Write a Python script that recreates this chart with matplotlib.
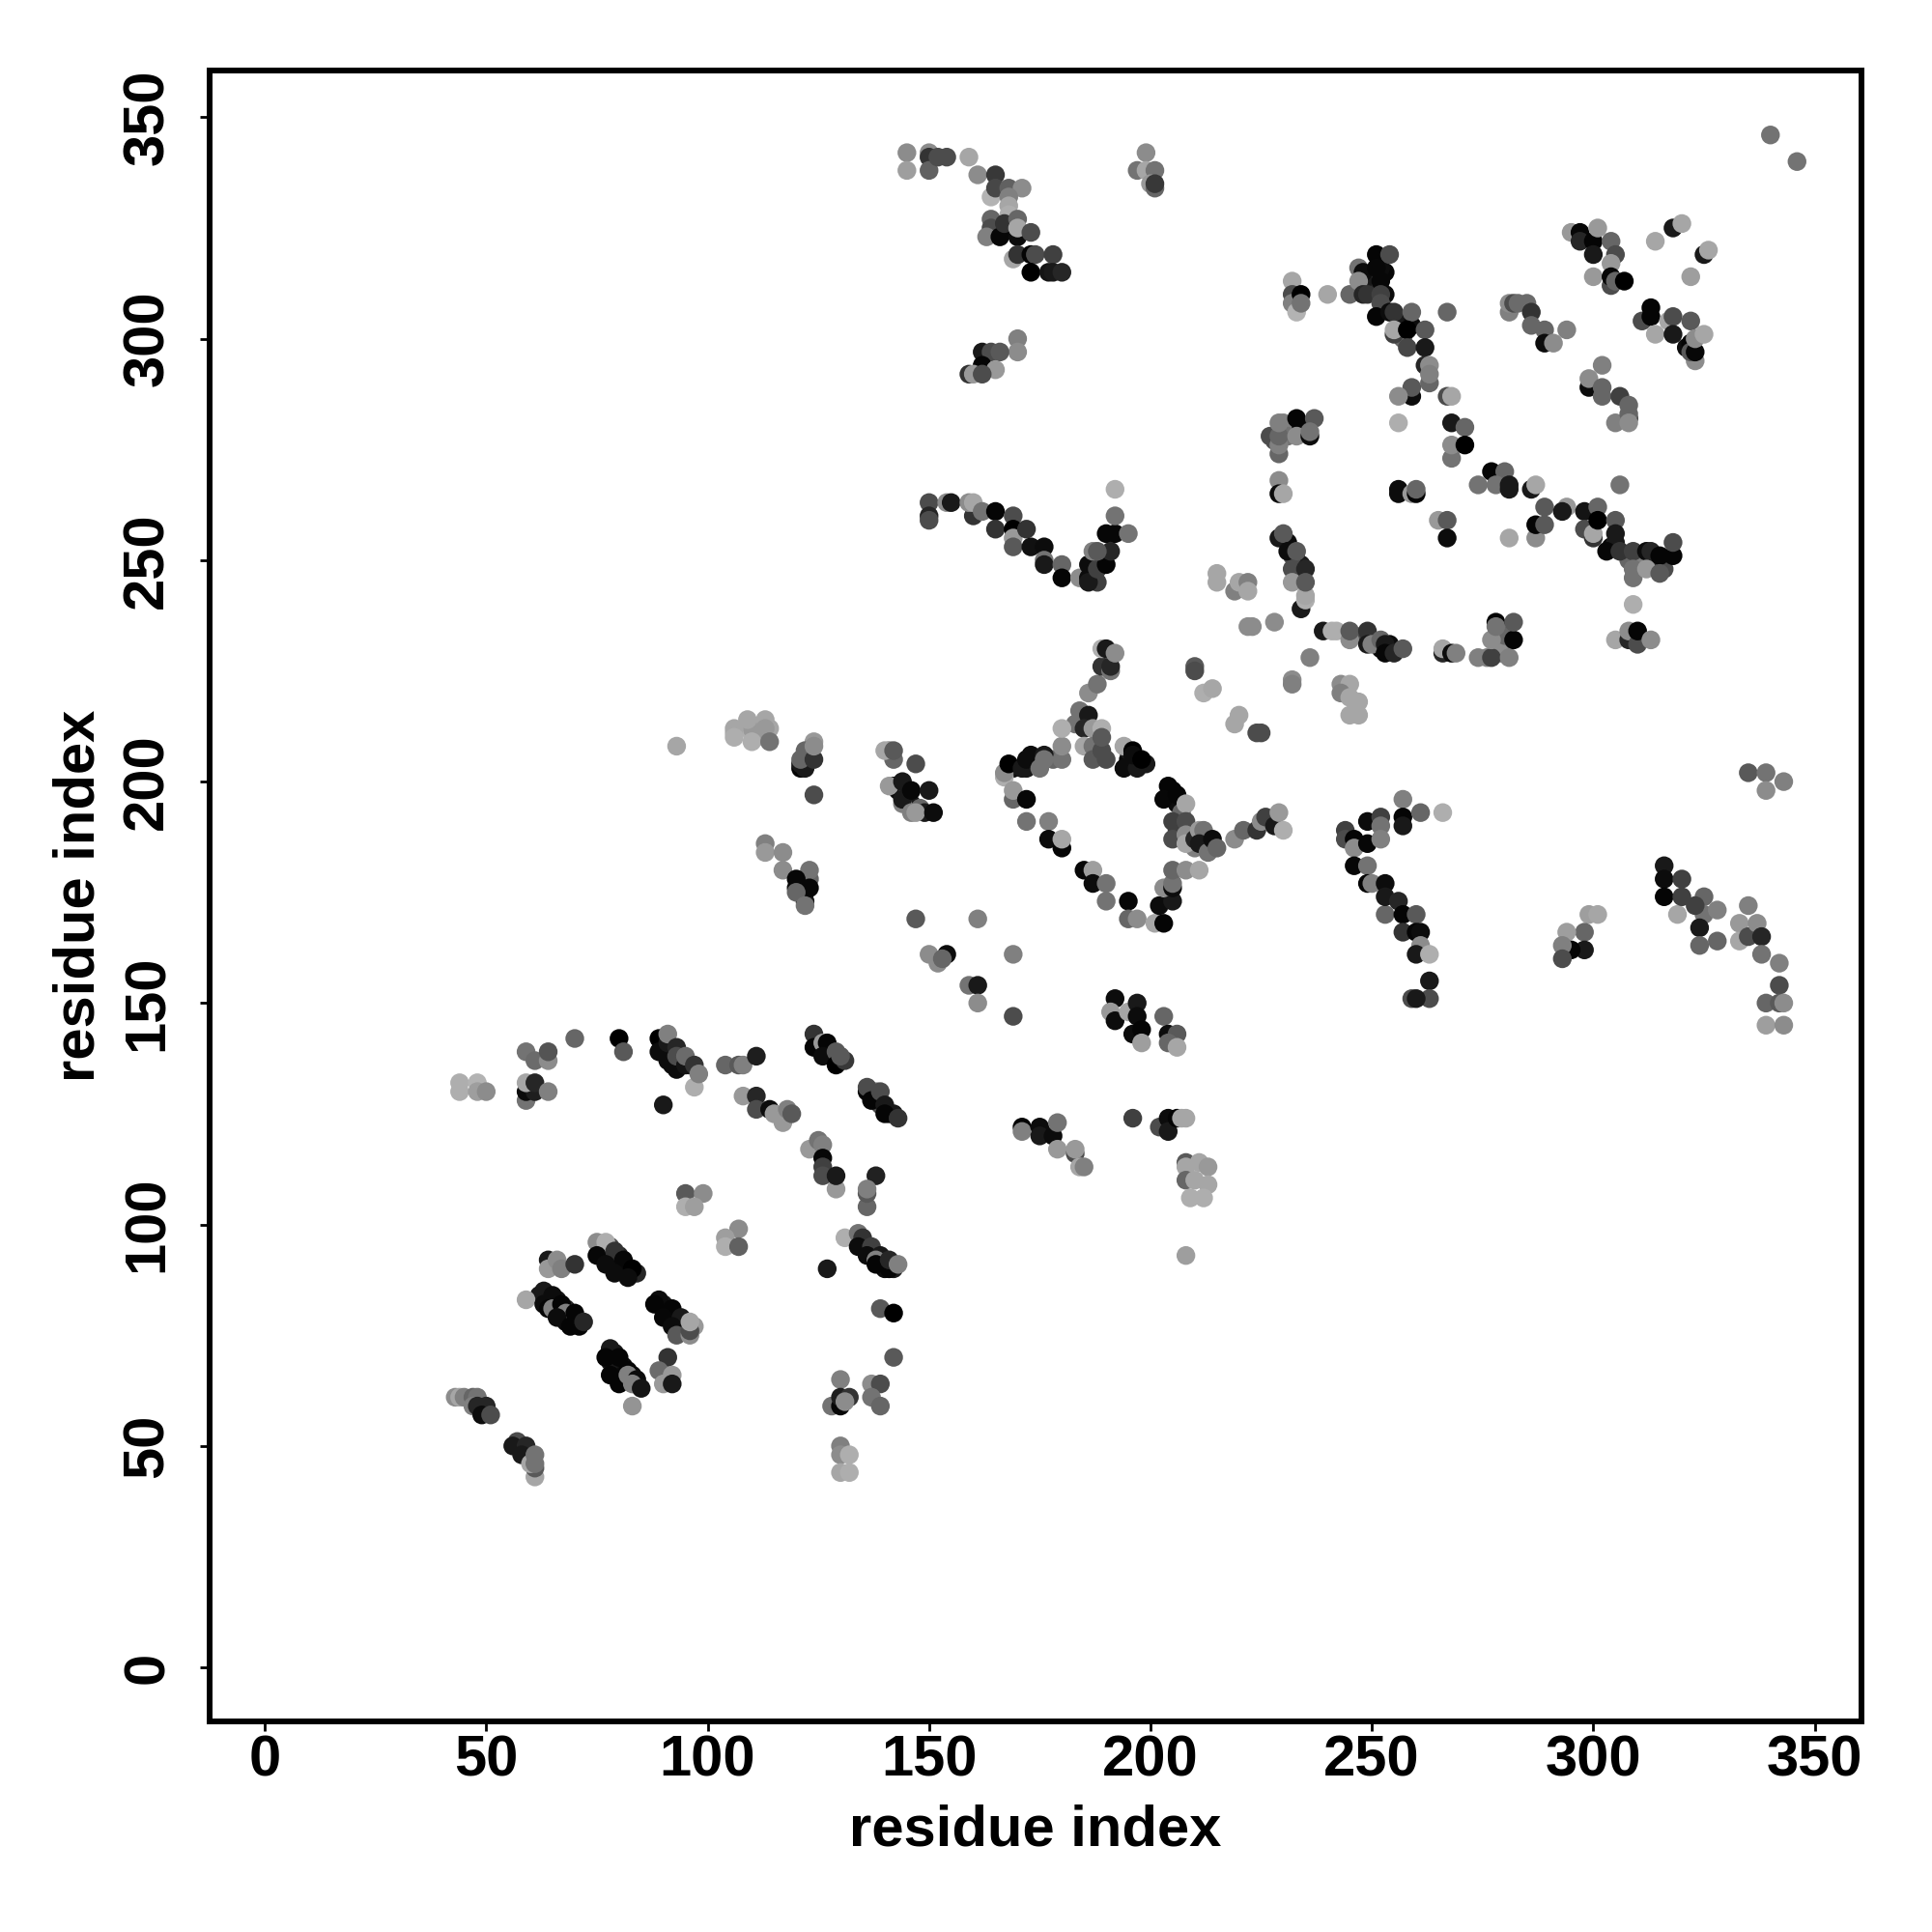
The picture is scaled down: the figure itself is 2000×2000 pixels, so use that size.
"""Residue contact map, points shaded by score."""

import matplotlib.pyplot as plt
import numpy as np

plt.rcParams["font.family"] = ["Liberation Sans", "DejaVu Sans"]

# (residue i, residue j, score); score 0 = black
dense_strands = [
    (121,203,.02),(122,205,.1),(123,207,.3),(124,209,.6),(121,204,.1),(122,207,.4),(120,176,.05),(122,175,.03),(122,178,.02),(123,178,.4),(122,173,.1),
    (109,212,.68),(110,212,.6),(114,212,.65),(111,210,.6),(106,211,.68),(141,207,.5),(142,205,.4),(142,199,.02),(143,198,.05),(145,197,.3),(146,195,.1),(148,194,.4),(144,195,.5),(149,193,.1),
    (78,92,.05),(80,91,.05),(82,89,.03),(76,94,.05),(84,89,.15),(80,93,.15),(78,95,.3),(64,83,.05),(66,81,.05),(68,81,.15),(68,78,.05),(70,78,.02),(66,83,.1),(62,84,.1),
    (90,82,.1),(91,80,.05),(93,78,.05),(95,77,.05),(94,76,.3),(97,77,.6),(78,70,.05),(79,71,.1),(79,68,.05),(81,68,.05),(81,65,.05),(83,66,.05),(84,64,.05),(78,69,.1),
    (90,140,.05),(92,139,.05),(94,137,.08),(96,136,.1),(94,136,.05),(92,136,.05),(125,140,.05),(128,138,.1),(130,137,.05),(127,139,.05),(129,137,.1),
    (138,128,.05),(139,127,.3),(141,125,.05),(142,125,.1),(138,130,.5),(137,129,.15),(135,96,.1),(136,95,.3),(137,93,.05),(139,91,.05),(140,92,.2),(140,90,.05),(142,90,.1),
    (250,314,.1),(251,313,.15),(253,310,.05),(248,313,.1),(253,315,.03),(252,316,.05),(257,304,.1),(257,300,.4),(259,303,.05),(165,324,.2),(168,325,.05),(169,327,.6),
    (172,203,.1),(173,206,.05),(174,204,.1),(178,205,.4),(169,203,.05),(195,205,.03),(197,205,.02),(195,207,.1),(199,204,.1),(205,198,.02),(204,197,.05),(206,195,.05),(207,193,.4),
    (206,189,.25),(209,189,.35),(210,185,.5),(212,186,.2),(209,187,.25),(213,186,.15),(308,250,.4),(311,250,.3),(314,249,.2),(316,248,.3),(311,249,.5),(304,253,.03),(305,254,.1),
    (231,254,.05),(233,250,.2),(234,249,.1),(232,251,.3),(233,247,.1),(230,281,.5),(231,278,.45),(228,277,.3),(234,280,.05),(321,298,.05),(322,299,.02),
    (248,233,.3),(250,232,.15),(252,230,.05),(254,231,.05),(279,229,.45),(279,231,.55),(278,233,.5),(280,233,.4),
]

lower_left = [
    (44,132,.68),(44,130,.68),(48,132,.7),(48,130,.62),(50,130,.55),(59,139,.45),(61,137,.42),(64,137,.55),(64,139,.33),(70,142,.4),
    (59,128,.45),(59,130,.05),(61,130,.12),(59,132,.65),(61,132,.15),(64,130,.5),(80,142,0),(81,139,.35),
    (89,142,0),(89,139,.05),(91,137,.05),(93,135,.05),(91,141,.1),(91,143,.5),(93,140,.15),(93,138,.3),(95,136,.08),(95,138,.42),(97,136,.2),(97,131,.68),(98,134,.5),(90,127,.1),
    (104,136,.4),(107,136,.35),(108,136,.5),(111,138,.12),(108,129,.6),(111,129,.15),(111,126,.3),(117,123,.6),(114,126,.05),(115,125,.6),(118,126,.5),(119,125,.35),
    (124,143,.2),(124,140,.02),(126,141,.6),(127,141,.02),(126,138,.05),(129,139,.35),(129,136,0),(131,137,.22),(130,138,.35),
    (136,130,.02),(136,131,.3),(137,128,.02),(139,130,.3),(140,127,.1),(140,125,.02),(143,124,.2),
    (123,117,.6),(125,119,.45),(126,118,.5),(126,115,.03),(126,113,.25),(126,111,.3),(129,108,.6),(129,111,.1),(138,111,.13),(136,104,.4),(136,107,.35),(136,108,.5),
    (95,107,.35),(99,107,.55),(95,104,.68),(97,104,.62),(107,99,.55),(104,97,.62),(104,95,.68),(107,95,.38),
    (131,97,.68),(134,98,.45),(135,97,.2),(134,95,.05),(137,95,.25),(136,93,.05),(139,93,.1),(138,92,.5),(138,91,.02),(141,90,.02),(141,92,.15),(143,91,.5),(127,90,.1),
    (139,81,.35),(142,80,0),(142,70,.35),(64,92,.1),(64,90,.6),(66,92,.55),(67,90,.5),(70,91,.2),
    (75,96,.55),(77,96,.68),(75,93,.03),(79,94,.2),(77,91,.05),(81,92,.03),(79,89,.05),(83,90,0),(82,88,.05),
    (59,83,.65),(63,85,.1),(65,84,.05),(63,82,.05),(64,81,.02),(65,81,.5),(67,82,.02),(68,80,.5),(70,80,.02),(66,79,.05),(69,77,.02),(71,77,.02),(72,78,.15),
    (89,83,.05),(88,82,.02),(92,81,.02),(90,79,.03),(94,79,.1),(92,77,.05),(93,75,.35),(96,75,.55),(96,76,.3),(96,78,.65),
    (78,72,.1),(77,70,.02),(80,70,.02),(78,66,.02),(82,67,.02),(80,64,.02),(82,66,.5),(84,65,.05),(83,64,.5),(85,63,.08),(83,59,.58),
    (91,70,.2),(89,67,.42),(90,64,.6),(92,66,.6),(92,64,.1),
    (130,65,.5),(128,59,.45),(130,59,.03),(130,61,.12),(132,61,.2),(131,60,.55),(137,64,.55),(139,64,.3),(137,61,.45),(139,59,.4),
    (130,50,.5),(130,48,.55),(132,48,.68),(130,44,.65),(132,44,.68),
    (43,61,.55),(44,61,.65),(45,61,.5),(47,61,.4),(48,61,.45),(47,59,.5),(48,59,.15),(50,59,.15),(49,57,.05),(51,57,.3),
    (57,51,.3),(56,50,.1),(59,50,.15),(58,48,.1),(61,43,.65),(61,45,.35),(60,46,.65),(61,46,.45),(61,48,.45),
]

upper_middle = [
    (145,342,.55),(145,338,.62),(150,342,.55),(150,341,.2),(150,338,.38),(152,341,.3),(154,341,.3),(159,341,.65),(161,337,.55),(165,337,.22),
    (164,332,.7),(165,334,.28),(168,334,.38),(171,334,.55),(168,332,.5),(168,330,.65),(168,328,.68),
    (164,327,.4),(164,325,.3),(163,323,.5),(166,323,.03),(167,326,.2),(170,323,.05),(170,327,.4),(170,325,.65),(173,324,.3),
    (169,318,.65),(170,319,.2),(173,319,.02),(174,319,.3),(178,319,.25),(173,315,0),(177,315,.08),(178,315,.1),(180,315,.15),
    (170,300,.5),(170,297,.55),(162,297,.1),(164,297,.3),(166,297,.35),(162,294,.02),(165,293,.6),(159,292,.2),(160,292,.6),(162,292,.3),
    (199,342,.55),(197,338,.45),(199,338,.65),(201,338,.45),(200,335,.6),(201,334,.4),(201,335,.22),
    (150,263,.3),(150,260,.15),(150,259,.3),(154,263,.55),(155,263,.1),(160,260,.2),(159,263,.55),(160,263,.65),(162,261,.45),(165,261,.02),(165,257,.2),
    (169,260,.3),(169,257,0),(169,255,.6),(169,253,.35),(172,257,.2),(173,253,.07),(176,253,.05),(176,250,.45),(176,249,.1),(180,249,.4),(180,246,.02),
    (184,246,.55),(186,249,.05),(186,246,.05),(188,245,.25),(186,245,.1),(188,248,.25),(190,249,.02),(191,252,.15),(187,252,.5),(188,252,.35),
    (190,256,.03),(192,256,.03),(192,260,.45),(195,256,.45),(192,266,.68),
    (215,247,.65),(215,245,.65),(219,243,.5),(220,245,.65),(222,245,.5),(222,243,.65),(222,235,.55),(223,235,.55),(228,236,.55),
    (232,223,.55),(232,222,.5),(236,228,.5),(243,222,.55),(245,222,.65),(243,220,.5),(245,219,.65),(247,218,.65),(245,215,.65),(247,215,.65),
]

upper_right = [
    (232,313,.65),(232,310,.3),(232,308,.5),(233,306,.7),(234,310,0),(234,308,.45),(240,310,.65),(245,310,.4),
    (247,316,.45),(248,315,.05),(247,313,.55),(248,310,.15),(249,310,.2),(251,319,.02),(254,319,.3),(251,316,.03),(252,313,.03),(252,310,.25),(252,308,.3),
    (251,305,.02),(254,306,.05),(255,306,.2),(259,306,.4),(267,306,.4),(255,301,.25),(255,302,.65),(258,302,0),(262,302,.35),(258,298,.28),(262,298,.1),
    (262,294,.15),(263,294,.55),(263,290,.4),(263,292,.5),(259,287,.05),(259,289,.35),(256,287,.55),(267,287,.3),(268,287,.65),(256,281,.68),
    (268,281,.1),(271,280,.4),(268,273,.45),(268,276,.55),(271,276,0),(277,270,.02),(280,270,.4),(274,267,.45),(278,267,.45),(281,266,.1),(281,267,.1),
    (286,266,.1),(287,267,.65),(281,255,.65),(287,255,.55),(256,266,.05),(256,265,.05),(259,265,.6),(260,265,.02),(260,266,.4),
    (265,259,.6),(267,259,.35),(267,255,.05),(289,262,.35),(287,258,.02),(289,258,.35),(294,262,.6),(293,261,.1),(298,261,.08),(298,257,.3),(301,262,.4),
    (300,255,.2),(300,256,.65),(301,259,0),(305,259,.35),(305,256,.1),(303,252,.03),(306,252,.2),(309,252,.25),(309,246,.45),(309,248,.45),
    (312,252,.05),(313,252,.15),(315,251,.02),(318,251,.02),(318,254,.3),(312,248,.6),(315,247,.35),(306,267,.45),(309,240,.68),
    (305,232,.65),(308,232,.15),(308,234,.55),(310,231,.3),(310,234,.02),(313,232,.55),
    (295,324,.6),(297,324,.03),(297,322,.15),(300,322,.02),(301,325,.6),(304,322,.4),(300,319,.1),(305,319,.3),(304,317,.6),(300,314,.6),(304,312,.3),(304,314,.03),(305,313,.4),(307,313,0),
    (314,322,.65),(318,325,.1),(320,326,.65),(322,314,.62),(325,319,.1),(326,320,.65),
    (311,304,.3),(313,307,.02),(313,305,.02),(314,301,.65),(317,304,.65),(318,305,.3),(322,304,.35),(318,301,.1),(323,295,.55),(322,297,.35),(323,297,.03),(323,300,.55),(325,301,.65),
    (281,306,.5),(281,308,.55),(282,308,.3),(283,308,.42),(285,308,.42),(286,306,.2),(286,303,.4),(289,302,.4),(289,299,.05),(291,299,.55),(294,302,.5),
    (302,294,.5),(299,289,.05),(299,291,.55),(302,289,.4),(302,287,.4),(306,287,.25),(308,285,.4),(308,282,.05),(305,281,.5),(308,283,.4),(308,281,.55),
    (227,278,.3),(229,274,.4),(229,276,.5),(229,278,.4),(229,281,.5),(233,282,.02),(233,278,.55),(237,282,.35),(236,278,.05),(236,279,.45),(229,268,.55),(229,265,.05),(230,265,.65),
    (229,255,.1),(230,256,.35),(231,252,.05),(233,252,.35),(232,248,.3),(235,248,.15),(232,245,.6),(234,239,.1),(235,241,.68),(235,242,.65),(235,245,.35),
    (239,234,.1),(241,234,.68),(242,234,.68),(245,232,.55),(245,234,.35),(249,234,.2),(249,231,.1),(250,231,.5),(252,232,.4),(253,231,.1),(253,229,.03),(255,229,.15),(257,230,.35),
    (266,229,.15),(266,230,.65),(268,229,.05),(269,229,.5),(274,228,.5),(276,228,.5),(277,228,.25),(281,228,.5),(277,232,.55),(278,236,.02),(278,235,.45),(282,232,.02),(282,236,.35),
]

centre = [
    (186,220,.55),(188,222,.45),(189,226,.2),(191,225,.45),(191,226,.15),(189,230,.68),(190,230,.1),(192,229,.55),
    (212,220,.68),(214,221,.65),(210,226,.35),(210,225,.3),(219,213,.65),(220,215,.65),(224,211,.3),(225,211,.3),
    (184,216,.45),(183,213,.45),(186,215,.1),(185,212,.15),(187,212,.6),(189,212,.68),(185,208,.65),(187,208,.45),(187,205,.35),(190,205,.3),(189,207,.3),(189,210,.35),
    (194,208,.65),(196,207,0),(194,203,.05),(197,203,.1),(196,206,.05),(198,205,0),
    (167,201,.68),(167,202,.55),(168,204,0),(171,203,.1),(172,205,.05),(175,203,.45),(176,206,.1),(176,205,.45),(180,205,.45),(180,208,.55),(180,212,.68),
    (169,196,.4),(169,198,.6),(172,196,.03),(172,191,.45),(177,191,.5),(177,187,.05),(180,185,.02),(180,187,.65),
    (185,180,.03),(187,180,.62),(187,177,.05),(190,177,.45),(190,173,.45),(195,173,.03),(195,169,.4),(197,169,.55),
    (201,168,.65),(203,168,.02),(202,172,.05),(205,173,.1),(203,176,.55),(205,176,.05),(205,177,.45),(205,180,.4),(208,180,.55),(211,180,.65),
    (204,199,.02),(203,196,.03),(206,197,.02),(208,195,.65),(205,191,.25),(205,187,.3),(208,191,.3),(208,188,.55),(208,186,.65),(210,187,.15),(211,189,.6),(212,189,.45),(211,186,.1),
    (213,184,.45),(214,187,.05),(215,185,.4),(219,187,.55),(221,189,.4),(224,189,.2),(225,191,.55),(226,192,.25),(228,190,.1),(229,193,.6),(230,189,.68),
    (244,189,.25),(244,187,.3),(246,187,.02),(246,185,.55),(249,186,.03),(249,191,.05),(252,192,.25),(252,190,.45),(252,187,.5),(257,196,.5),(257,192,.02),(257,190,.1),(261,193,.4),(266,193,.68),
    (246,181,.03),(249,181,.45),(249,177,.02),(250,177,.5),(253,177,.05),(253,170,.4),(253,174,.1),(256,173,.15),(257,170,.02),(260,170,.35),(257,166,.2),(260,166,.02),(261,166,.05),
    (261,163,.55),(260,161,.1),(263,161,.68),(263,155,.1),(263,151,.3),(259,151,.3),(260,151,.1),
    (299,170,.62),(301,170,.65),(298,166,.4),(294,166,.62),(298,162,.1),(295,162,.02),(293,163,.5),(293,160,.3),
    (147,169,.35),(150,161,.55),(152,159,.55),(154,161,.05),(153,160,.4),(159,154,.45),(161,169,.5),(169,161,.5),(161,154,.1),(161,150,.55),(169,147,.3),
    (192,151,.05),(191,148,.6),(192,146,.05),(195,148,.65),(197,150,.1),(197,147,.05),(196,143,.05),(198,144,.02),(198,141,.62),(203,147,.4),(204,143,.05),(206,143,.35),(204,141,.4),(206,140,.65),
    (171,122,.02),(171,121,.5),(175,122,.05),(175,120,.1),(178,120,.05),(179,123,.45),(179,117,.6),(183,116,.3),(183,117,.6),(184,113,.65),(185,113,.5),
    (196,124,.25),(202,122,.3),(204,124,.05),(204,121,.1),(206,124,.02),(207,124,.65),(208,124,.65),
    (208,114,.35),(208,113,.65),(211,114,.65),(213,113,.6),(208,110,.4),(210,110,.65),(213,109,.65),(209,106,.68),(212,106,.68),(208,93,.62),
]

left_and_far_right = [
    (93,208,.65),(106,212,.65),(109,214,.65),(113,214,.65),(113,212,.6),(106,210,.68),(110,209,.68),(114,209,.45),
    (122,203,.1),(121,205,.4),(124,205,.2),(124,208,.55),(124,197,.3),
    (113,186,.5),(113,184,.6),(117,184,.55),(117,180,.55),(123,180,.45),(120,178,.03),(123,176,.03),(120,175,.4),(122,172,.45),
    (140,207,.65),(142,207,.35),(147,204,.3),(141,199,.6),(144,200,.1),(144,196,.1),(146,198,.03),(150,198,.1),(146,193,.5),(147,193,.6),(151,193,.05),
    (335,202,.35),(339,202,.45),(339,198,.55),(343,200,.5),
    (316,181,.1),(316,178,.05),(316,174,.02),(320,178,.25),(319,170,.65),(320,174,.25),(325,174,.4),(325,170,.45),(323,172,.25),(328,171,.5),(324,167,.1),(324,163,.4),(328,164,.4),
    (333,168,.6),(335,172,.5),(333,164,.65),(335,165,.3),(337,168,.55),(338,165,.15),(338,161,.45),(342,159,.5),(342,154,.3),(339,150,.4),(342,150,.35),(343,150,.55),(339,145,.62),(343,145,.55),
    (340,346,.45),(346,340,.45),
]

tick_values = [0, 50, 100, 150, 200, 250, 300, 350]
axis_label = "residue index"


def main() -> None:
    contacts = np.array(dense_strands + lower_left + upper_middle + upper_right + centre + left_and_far_right)

    fig = plt.figure(figsize=(20, 20), dpi=100)
    ax = fig.add_axes([0.1084, 0.109, 0.8552, 0.8546])
    ax.scatter(contacts[:, 0], contacts[:, 1], c=contacts[:, 2], cmap="gray", vmin=0, vmax=1, s=195, linewidths=0)

    ax.set_xlim(-12.5, 360.6)
    ax.set_ylim(-12.2, 360.6)
    ax.set_xticks(tick_values)
    ax.set_yticks(tick_values)
    ax.tick_params(length=7, width=2, labelsize=43)
    ax.tick_params(axis="x", pad=3)
    ax.tick_params(axis="y", pad=19)
    for lab in ax.get_xticklabels() + ax.get_yticklabels():
        lab.set_fontweight("bold")
    for lab in ax.get_yticklabels():
        lab.set_rotation(90)
        lab.set_va("center")
    for spine in ax.spines.values():
        spine.set_linewidth(4.3)

    ax.set_xlabel(axis_label, fontsize=43, fontweight="bold", labelpad=12)
    ax.set_ylabel(axis_label, fontsize=43, fontweight="bold", labelpad=12)

    fig.savefig("out.png", dpi=100)


if __name__ == "__main__":
    main()
